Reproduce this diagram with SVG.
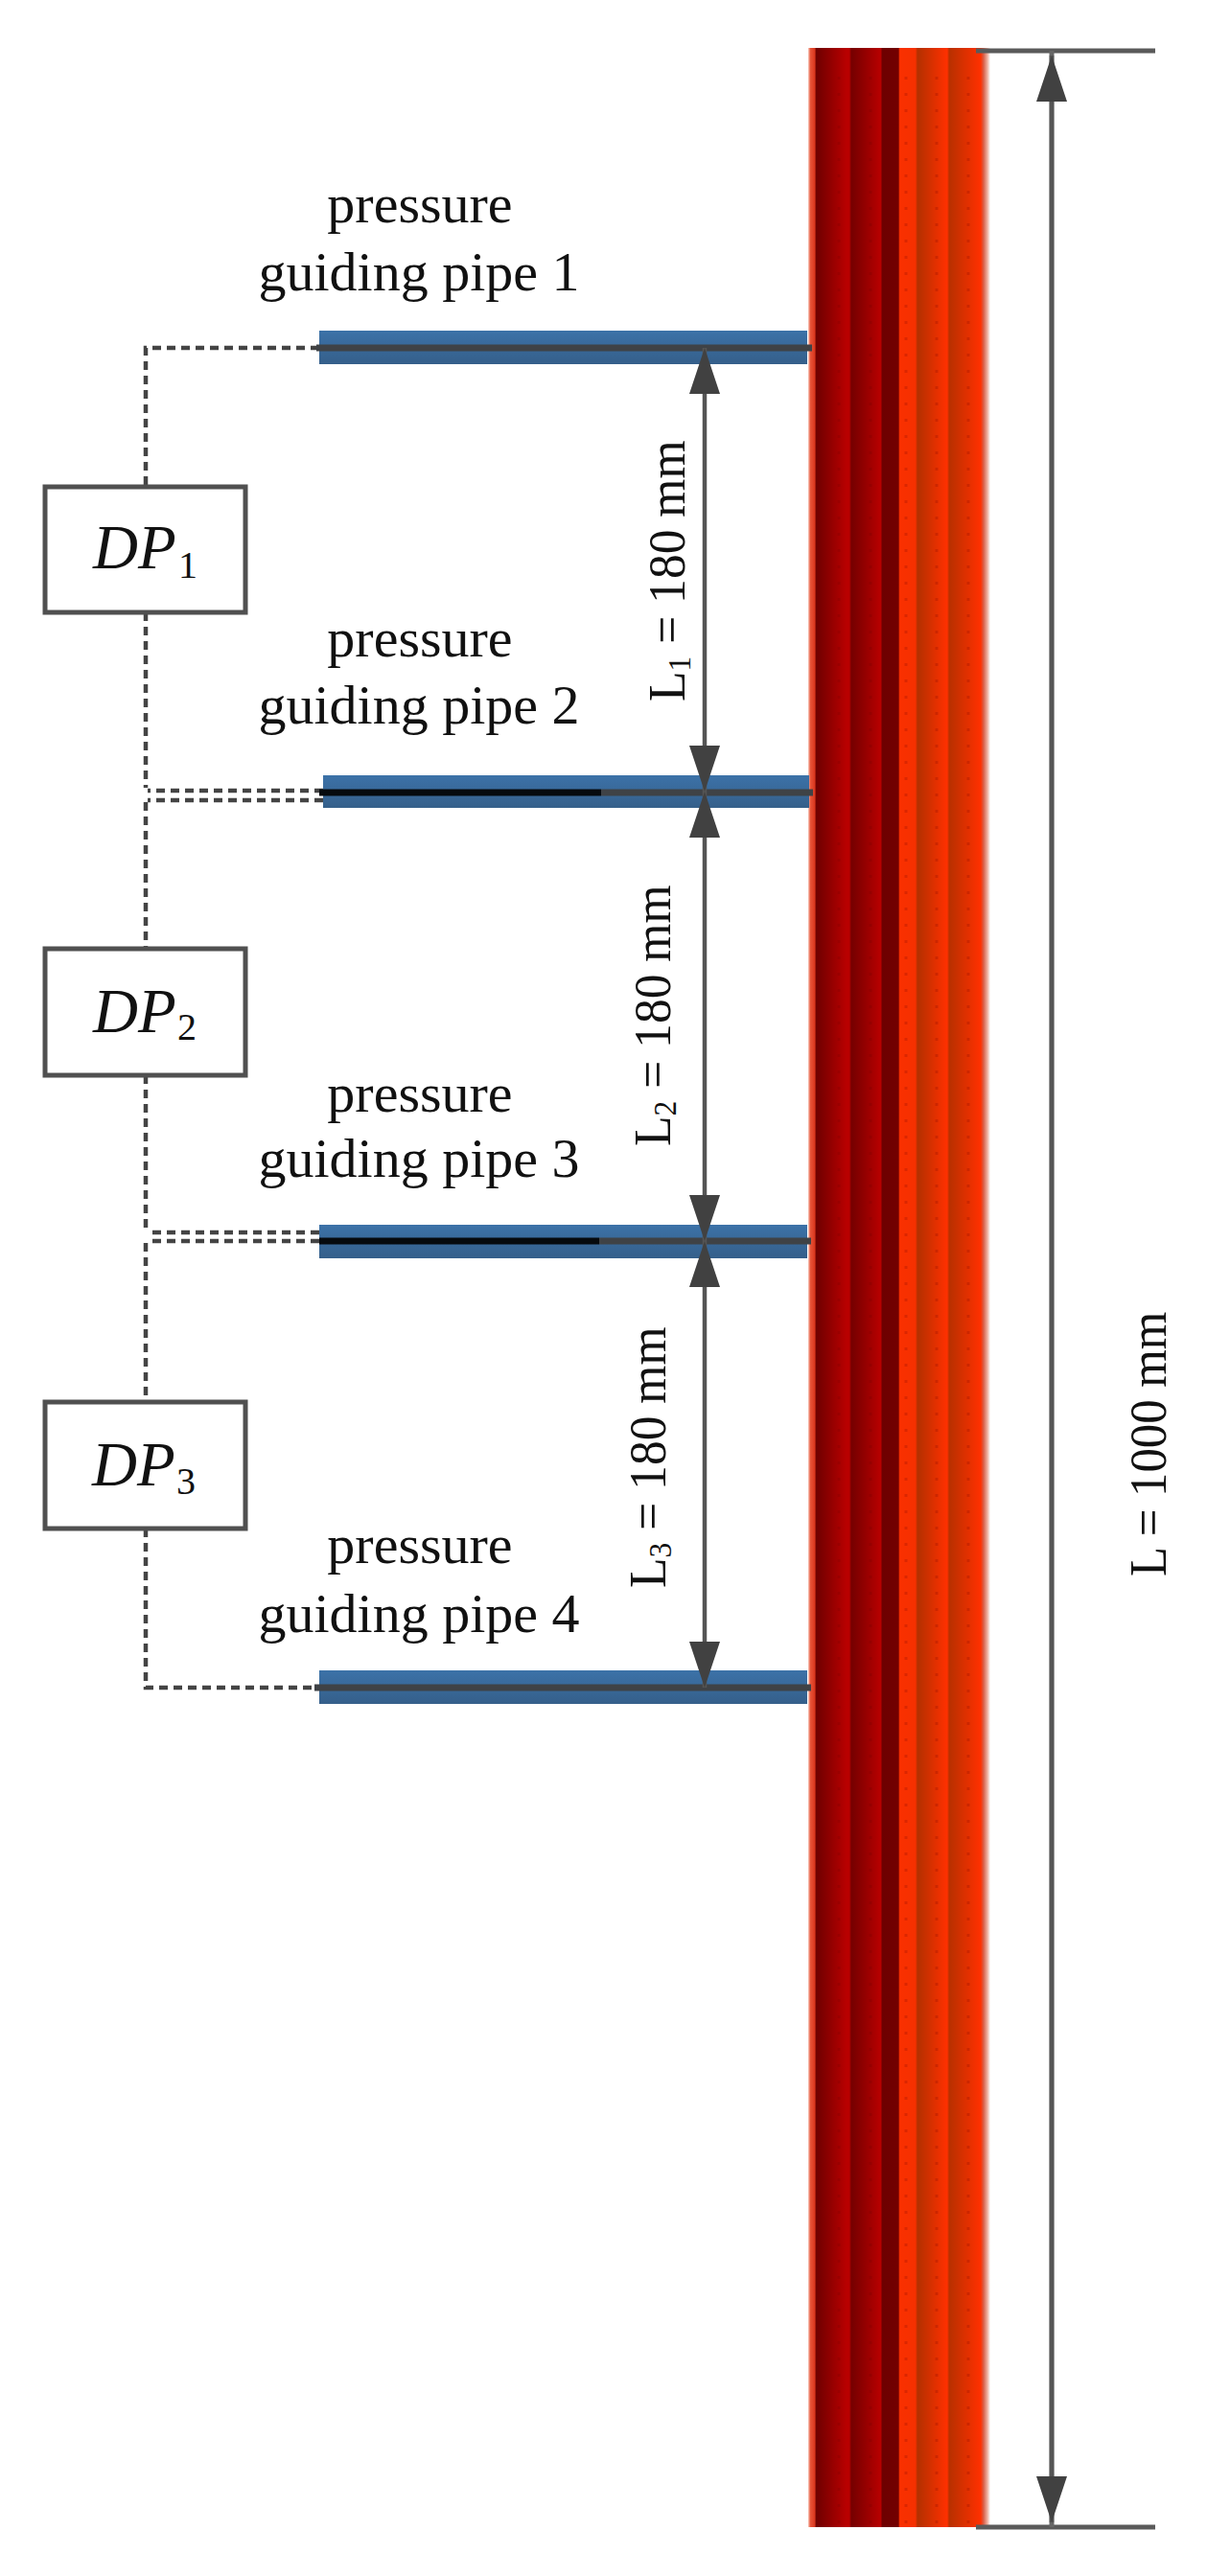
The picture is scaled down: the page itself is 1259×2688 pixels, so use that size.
<svg xmlns="http://www.w3.org/2000/svg" width="1259" height="2688" viewBox="0 0 1259 2688">
<style>
text{font-family:"Liberation Serif","Times New Roman",serif;fill:#111}
.lab{font-size:58px;text-anchor:middle}
.dim-t{font-size:54px}
.sub{font-size:33px}
.dp{font-size:65px;font-style:italic}
.dps{font-size:40px}
.box{fill:#fff;stroke:#505050;stroke-width:5}
.pipe{fill:url(#pipeG)}
.core{stroke:#3f4246;stroke-width:7;fill:none}
.blk{stroke:#060a0e;stroke-width:7;fill:none}
.dash{stroke:#444;stroke-width:4.5;stroke-dasharray:9 6;fill:none}
.dim{stroke:#555;stroke-width:4.5;fill:none}
.ext{stroke:#5a5a5a;stroke-width:5;fill:none}
.tex{stroke:#6e0000;stroke-opacity:.2;stroke-width:3;stroke-dasharray:3 14;fill:none}
</style>
<defs>
<linearGradient id="pipeG" x1="0" y1="0" x2="0" y2="1"><stop offset="0" stop-color="#3c72a8"/><stop offset="1" stop-color="#355f8a"/></linearGradient>
<linearGradient id="barG" gradientUnits="userSpaceOnUse" x1="843" y1="0" x2="1033" y2="0">
<stop offset="0" stop-color="#f8d0c4"/><stop offset=".012" stop-color="#e8553a"/><stop offset=".037" stop-color="#d8351c"/><stop offset=".043" stop-color="#6e0000"/><stop offset=".21" stop-color="#b80000"/><stop offset=".226" stop-color="#b80000"/><stop offset=".237" stop-color="#750000"/><stop offset=".4" stop-color="#b80000"/><stop offset=".405" stop-color="#6e0000"/><stop offset=".495" stop-color="#720000"/><stop offset=".503" stop-color="#f93000"/><stop offset=".589" stop-color="#f53000"/><stop offset=".6" stop-color="#b33000"/><stop offset=".763" stop-color="#ff3000"/><stop offset=".774" stop-color="#b83000"/><stop offset=".947" stop-color="#ff3000"/><stop offset=".963" stop-color="#d8604a"/><stop offset=".984" stop-color="#eeb0a0"/><stop offset="1" stop-color="#fff"/>
</linearGradient>
<marker id="head" viewBox="0 0 48 32" refX="48" refY="16" markerWidth="48" markerHeight="32" markerUnits="userSpaceOnUse" orient="auto-start-reverse"><path d="M0 0L48 16L0 32Z" fill="#414141"/></marker>
</defs>
<rect width="1259" height="2688" fill="#fff"/>
<g id="heated-bar">
<rect x="843" y="50" width="190" height="2587" fill="url(#barG)"/>
<path class="tex" d="M875 80V2637M908 80V2637M945 80V2637M977 80V2637M1010 80V2637"/>
</g>
<g id="connectors">
<path class="dash" d="M333 363H152V508"/>
<path class="dash" d="M152 639V822"/>
<path class="dash" d="M337 825H154"/>
<path class="dash" d="M337 835H154"/>
<path class="dash" d="M152 837V990"/>
<path class="dash" d="M152 1122V1284"/>
<path class="dash" d="M333 1286H154"/>
<path class="dash" d="M333 1295H154"/>
<path class="dash" d="M152 1297V1463"/>
<path class="dash" d="M152 1595V1761H333"/>
</g>
<g id="pipe-1">
<rect class="pipe" x="333" y="345" width="509" height="35"/>
<path class="core" d="M330 363H847"/>
<text class="lab" x="438" y="232">pressure</text>
<text class="lab" x="437" y="303">guiding pipe 1</text>
</g>
<g id="pipe-2">
<rect class="pipe" x="337" y="809" width="507" height="34"/>
<path class="core" d="M627 827H848"/>
<path class="blk" d="M333 827H627"/>
<text class="lab" x="438" y="685">pressure</text>
<text class="lab" x="437" y="755">guiding pipe 2</text>
</g>
<g id="pipe-3">
<rect class="pipe" x="333" y="1278" width="509" height="35"/>
<path class="core" d="M625 1295H846"/>
<path class="blk" d="M333 1295H625"/>
<text class="lab" x="438" y="1160">pressure</text>
<text class="lab" x="437" y="1228">guiding pipe 3</text>
</g>
<g id="pipe-4">
<rect class="pipe" x="333" y="1743" width="509" height="35"/>
<path class="core" d="M328 1761H846"/>
<text class="lab" x="438" y="1631">pressure</text>
<text class="lab" x="437" y="1703">guiding pipe 4</text>
</g>
<g id="dp-1">
<rect class="box" x="47" y="508" width="209" height="131"/>
<text class="dp" x="97" y="593">DP</text><text class="dps" x="186" y="603">1</text>
</g>
<g id="dp-2">
<rect class="box" x="47" y="990" width="209" height="132"/>
<text class="dp" x="97" y="1077">DP</text><text class="dps" x="185" y="1085">2</text>
</g>
<g id="dp-3">
<rect class="box" x="47" y="1463" width="209" height="132"/>
<text class="dp" x="96" y="1550">DP</text><text class="dps" x="184" y="1559">3</text>
</g>
<g id="dimensions">
<path class="ext" d="M1018 53H1205"/>
<path class="ext" d="M1018 2637H1205"/>
<path class="dim" d="M1097 53V2637" style="stroke:#666;stroke-width:5"/>
<path class="dim" d="M1097 58V2632" marker-start="url(#head)" marker-end="url(#head)"/>
<path class="dim" d="M735 363V826" marker-start="url(#head)" marker-end="url(#head)"/>
<path class="dim" d="M735 826V1295" marker-start="url(#head)" marker-end="url(#head)"/>
<path class="dim" d="M735 1295V1761" marker-start="url(#head)" marker-end="url(#head)"/>
<text class="dim-t" transform="translate(714 732) rotate(-90) scale(.955 1)">L<tspan class="sub" dy="6">1</tspan><tspan dy="-6"> = 180 mm</tspan></text>
<text class="dim-t" transform="translate(699 1196) rotate(-90) scale(.955 1)">L<tspan class="sub" dy="6">2</tspan><tspan dy="-6"> = 180 mm</tspan></text>
<text class="dim-t" transform="translate(694 1657) rotate(-90) scale(.955 1)">L<tspan class="sub" dy="6">3</tspan><tspan dy="-6"> = 180 mm</tspan></text>
<text class="dim-t" transform="translate(1216 1645) rotate(-90) scale(.94 1)">L = 1000 mm</text>
</g>
</svg>
